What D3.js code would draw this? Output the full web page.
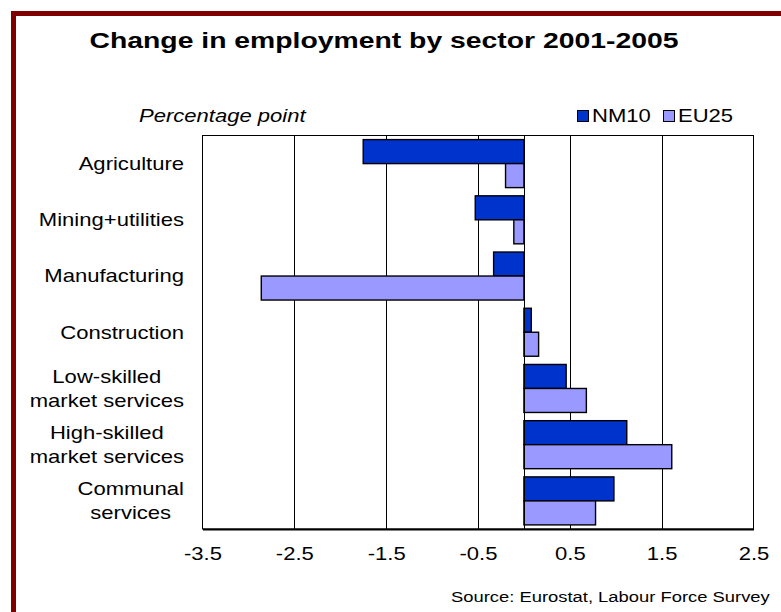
<!DOCTYPE html>
<html>
<head>
<meta charset="utf-8">
<script src="https://cdn.jsdelivr.net/npm/d3@7/dist/d3.min.js"></script>
<style>
  html, body { margin: 0; padding: 0; background: #fff; }
  svg { display: block; font-family: "Liberation Sans", Arial, sans-serif; }
</style>
</head>
<body>
<svg id="chart" width="781" height="612"></svg>
<script>
// Sector categories (top to bottom), each label split into its display lines
const sectors = [
  ["Agriculture"],
  ["Mining+utilities"],
  ["Manufacturing"],
  ["Construction"],
  ["Low-skilled", "market services"],
  ["High-skilled", "market services"],
  ["Communal", "services"]
];
const seriesNames = ["NM10", "EU25"];
const seriesColors = ["#0033CC", "#9999FF"];
// Change in employment share, percentage points
const nm10 = [-1.75, -0.53, -0.33, 0.08, 0.46, 1.12, 0.98];
const eu25 = [-0.20, -0.11, -2.86, 0.16, 0.68, 1.61, 0.78];
const tickValues = [-3.5, -2.5, -1.5, -0.5, 0.5, 1.5, 2.5];
const gridValues = [-2.5, -1.5, -0.5, 0.5, 1.5];

const SX = 1.26;                 // horizontal stretch of all lettering
const FONT = 17.5;
const svg = d3.select("#chart");

// Place a text block at (x, y) with wide lettering
function wideText(parent, x, y) {
  return parent.append("g")
    .attr("transform", `translate(${x},${y}) scale(${SX},1)`)
    .append("text");
}

// Outer frame
svg.append("rect")
  .attr("x", 13.5).attr("y", 13.5)
  .attr("width", 800).attr("height", 800)
  .attr("fill", "none").attr("stroke", "#800000").attr("stroke-width", 5);

// Title
wideText(svg, 384, 48)
  .attr("text-anchor", "middle")
  .attr("font-weight", "bold")
  .attr("font-size", 22.5)
  .text("Change in employment by sector 2001-2005");

// Unit label
wideText(svg, 139, 122)
  .attr("font-style", "italic")
  .attr("font-size", FONT)
  .text("Percentage point");

// Scales
const plot = { left: 202.5, right: 753.5, top: 135.5, bottom: 529 };
const x = d3.scaleLinear().domain([-3.5, 2.5]).range([plot.left, plot.right]);
const y = d3.scaleBand()
  .domain(d3.range(sectors.length))
  .range([plot.top, plot.bottom])
  .paddingInner(0.146).paddingOuter(0.073);
const ySub = d3.scaleBand().domain([0, 1]).range([0, y.bandwidth()]);

// Gridlines
svg.append("g").selectAll("line").data(gridValues).join("line")
  .attr("x1", d => Math.round(x(d)) + 0.5).attr("x2", d => Math.round(x(d)) + 0.5)
  .attr("y1", plot.top).attr("y2", plot.bottom)
  .attr("stroke", "#000").attr("stroke-width", 1);

// Plot area border
svg.append("rect")
  .attr("x", plot.left).attr("y", plot.top)
  .attr("width", plot.right - plot.left).attr("height", plot.bottom - plot.top)
  .attr("fill", "none").attr("stroke", "#000").attr("stroke-width", 1);

// Bars
const series = [nm10, eu25];
series.forEach((vals, si) => {
  svg.append("g").selectAll("rect").data(vals).join("rect")
    .attr("x", d => x(Math.min(0, d)))
    .attr("width", d => Math.abs(x(d) - x(0)))
    .attr("y", (d, i) => y(i) + ySub(si))
    .attr("height", ySub.bandwidth())
    .attr("fill", seriesColors[si])
    .attr("stroke", "#000").attr("stroke-width", 1.4);
});

// Zero line (category axis)
svg.append("line")
  .attr("x1", Math.round(x(0)) + 0.5).attr("x2", Math.round(x(0)) + 0.5)
  .attr("y1", plot.top).attr("y2", plot.bottom)
  .attr("stroke", "#000").attr("stroke-width", 1);

// Value axis
const xAxis = svg.append("g")
  .attr("transform", `translate(0,${plot.bottom})`)
  .call(d3.axisBottom(x).tickValues(tickValues).tickSize(0).tickPadding(19)
    .tickFormat(d3.format(".1f")));
xAxis.select(".domain").attr("stroke", "#000").attr("stroke-width", 2);
xAxis.selectAll("text")
  .attr("font-size", FONT).attr("fill", "#000")
  .attr("font-family", "'Liberation Sans', Arial, sans-serif")
  .attr("transform", `scale(${SX},1)`)
  .text(d => d3.format(".1f")(d).replace("−", "-"));

// Category labels: block right-aligned, lines centred within block
const lineH = 23.5;
sectors.forEach((lines, i) => {
  const cy = y(i) + y.bandwidth() / 2;
  const t = wideText(svg, 184, cy)
    .attr("font-size", FONT).attr("text-anchor", "middle");
  const first = (-(lines.length - 1) / 2) * lineH + 6.3;
  lines.forEach((ln, k) => {
    t.append("tspan").attr("y", first + k * lineH).text(ln);
  });
  let maxW = 0;
  t.selectAll("tspan").each(function () { maxW = Math.max(maxW, this.getComputedTextLength()); });
  t.selectAll("tspan").attr("x", -maxW / 2);
});

// Legend
const legendX = [577, 663];
seriesNames.forEach((name, si) => {
  svg.append("rect")
    .attr("x", legendX[si] + 0.5).attr("y", 110.5)
    .attr("width", 11).attr("height", 11)
    .attr("fill", seriesColors[si]).attr("stroke", "#000").attr("stroke-width", 1);
  wideText(svg, legendX[si] + 15, 122)
    .attr("font-size", FONT)
    .text(name);
});

// Source note
wideText(svg, 451, 602)
  .attr("font-size", 14.6)
  .text("Source: Eurostat, Labour Force Survey");
</script>
</body>
</html>
